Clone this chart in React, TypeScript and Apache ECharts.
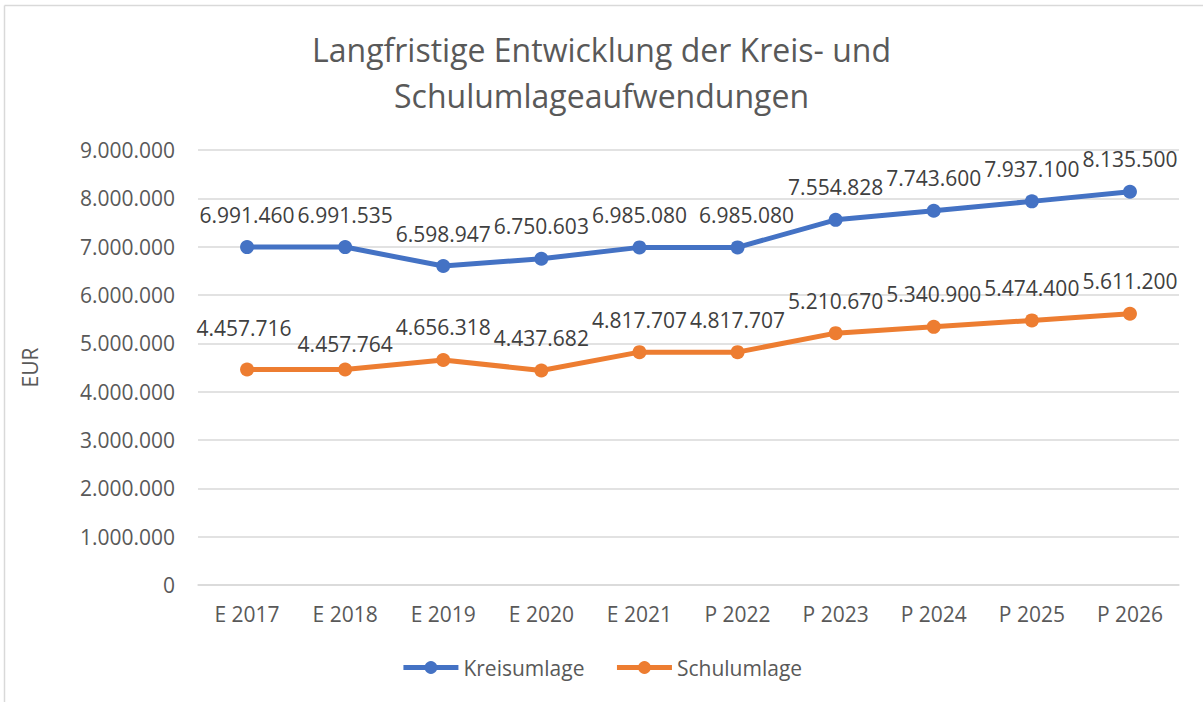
import React, { useEffect, useRef } from "react";
import * as echarts from "echarts";

const categories = ["E 2017", "E 2018", "E 2019", "E 2020", "E 2021", "P 2022", "P 2023", "P 2024", "P 2025", "P 2026"];
const kreisumlage = [6991460, 6991535, 6598947, 6750603, 6985080, 6985080, 7554828, 7743600, 7937100, 8135500];
const schulumlage = [4457716, 4457764, 4656318, 4437682, 4817707, 4817707, 5210670, 5340900, 5474400, 5611200];
const titleLines = ["Langfristige Entwicklung der Kreis- und", "Schulumlageaufwendungen"];

// small label nudges as placed in the original chart (x, y in px), by index
const kreisLabelNudge: Record<number, [number, number]> = { 5: [9, 0] };
const schulLabelNudge: Record<number, [number, number]> = { 0: [-3, -9], 1: [0, 7] };

const fmt = (v: number) => String(Math.round(v)).replace(/\B(?=(\d{3})+(?!\d))/g, ".");

const FONT = "'Open Sans', 'Noto Sans', sans-serif";

const withNudges = (values: number[], nudges: Record<number, [number, number]>) =>
  values.map((v, i) => (nudges[i] ? { value: v, label: { offset: nudges[i] } } : v));

export default function App() {
  const ref = useRef<HTMLDivElement>(null);
  useEffect(() => {
    document.body.style.margin = "0";
    const chart = echarts.init(ref.current!, null, { renderer: "svg" });
    const labelCommon = {
      show: true,
      position: "top",
      distance: 15,
      fontFamily: FONT,
      fontSize: 21,
      color: "#404040",
      formatter: (p: any) => fmt(p.value),
    };
    chart.setOption({
      animation: false,
      backgroundColor: "#ffffff",
      textStyle: { fontFamily: FONT },
      title: {
        text: titleLines.join("\n"),
        left: "center",
        top: 21,
        textStyle: { fontFamily: FONT, fontSize: 32, fontWeight: "normal", color: "#595959", lineHeight: 46 },
      },
      legend: {
        bottom: 19,
        left: "center",
        itemWidth: 55,
        itemHeight: 16,
        itemGap: 30,
        lineStyle: { width: 5 },
        textStyle: { fontFamily: FONT, fontSize: 21, color: "#595959" },
        data: ["Kreisumlage", "Schulumlage"],
      },
      grid: { left: 198, right: 24, top: 150, bottom: 117 },
      xAxis: {
        type: "category",
        data: categories,
        boundaryGap: true,
        axisLine: { lineStyle: { color: "#d9d9d9", width: 1.5 } },
        axisTick: { show: false },
        axisLabel: { fontFamily: FONT, fontSize: 21, color: "#595959", margin: 18 },
      },
      yAxis: {
        type: "value",
        min: 0,
        max: 9000000,
        interval: 1000000,
        name: "EUR",
        nameLocation: "middle",
        nameGap: 158,
        nameTextStyle: { fontFamily: FONT, fontSize: 21, color: "#595959" },
        axisLine: { show: false },
        axisTick: { show: false },
        splitLine: { lineStyle: { color: "#d9d9d9", width: 1.5 } },
        axisLabel: { fontFamily: FONT, fontSize: 21, color: "#595959", margin: 23, formatter: (v: number) => fmt(v) },
      },
      series: [
        {
          name: "Kreisumlage",
          type: "line",
          data: withNudges(kreisumlage, kreisLabelNudge),
          color: "#4472C4",
          lineStyle: { width: 5, color: "#4472C4" },
          symbol: "circle",
          symbolSize: 14,
          label: labelCommon,
        },
        {
          name: "Schulumlage",
          type: "line",
          data: withNudges(schulumlage, schulLabelNudge),
          color: "#ED7D31",
          lineStyle: { width: 5, color: "#ED7D31" },
          symbol: "circle",
          symbolSize: 14,
          label: labelCommon,
        },
      ],
      graphic: [
        { type: "line", shape: { x1: 4.5, y1: 5.5, x2: 1210, y2: 5.5 }, style: { stroke: "#d9d9d9", lineWidth: 1.5 } },
        { type: "line", shape: { x1: 4.5, y1: 5.5, x2: 4.5, y2: 710 }, style: { stroke: "#d9d9d9", lineWidth: 1.5 } },
      ],
    });
    return () => chart.dispose();
  }, []);
  return <div ref={ref} style={{ position: "absolute", left: 0, top: 0, width: 1203, height: 702 }} />;
}
